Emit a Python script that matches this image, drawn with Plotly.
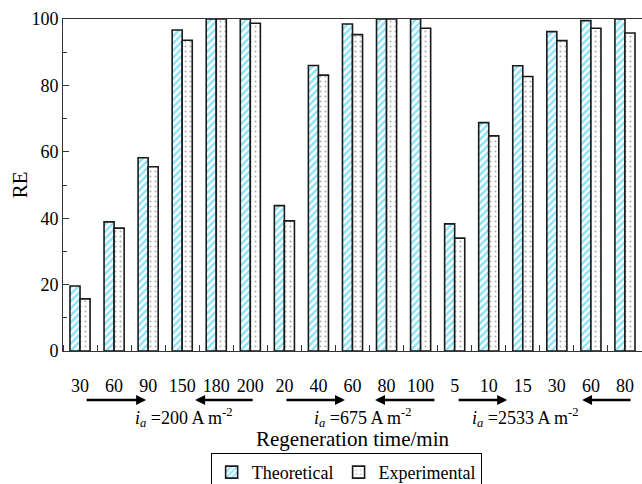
import plotly.graph_objects as go

categories = ["30", "60", "90", "150", "180", "200",
              "20", "40", "60", "80", "100",
              "5", "10", "15", "30", "60", "80"]
theoretical = [19.6, 38.9, 58.2, 96.7, 100, 100,
               43.8, 86.0, 98.5, 100, 100,
               38.3, 68.8, 85.9, 96.2, 99.5, 100]
experimental = [15.7, 37.0, 55.5, 93.6, 100, 98.7,
                39.2, 83.1, 95.3, 100, 97.2,
                34.0, 64.8, 82.7, 93.5, 97.2, 95.8]
xpos = list(range(len(categories)))

FONT = "Liberation Serif, Times New Roman, serif"

fig = go.Figure()
fig.add_trace(go.Bar(
    x=xpos, y=theoretical, name="Theoretical",
    marker=dict(color="white", line=dict(color="#1a1a1a", width=1.6),
                pattern=dict(shape="/", fgcolor="#1cc6f4", bgcolor="white",
                             size=5, solidity=0.5)),
))
fig.add_trace(go.Bar(
    x=xpos, y=experimental, name="Experimental",
    marker=dict(color="white", line=dict(color="#1a1a1a", width=1.6),
                pattern=dict(shape=".", fgcolor="#666", bgcolor="white",
                             size=5, solidity=0.15)),
))

# arrows (head x, tail offset px)
arrows = [(1.94, -61), (3.38, 59), (7.78, -60), (8.66, 61), (12.54, -50), (14.74, 50)]
annotations = []
for hx, off in arrows:
    annotations.append(dict(x=hx, y=-0.1476, xref="x", yref="paper",
                            ax=off, ay=0, axref="pixel", ayref="pixel",
                            showarrow=True, arrowhead=2, arrowsize=0.8,
                            arrowwidth=2.5, arrowcolor="black", text=""))

groups = [(3.05, "200"), (8.28, "675"), (13.06, "2533")]
for cx, val in groups:
    annotations.append(dict(x=cx, y=-0.199, xref="x", yref="paper",
                            showarrow=False, yanchor="middle",
                            text="<i>i</i><sub><i>a</i></sub> =" + val + " A m<sup>-2</sup>",
                            font=dict(family=FONT, size=18, color="black")))
annotations.append(dict(x=0.5, y=-0.266, xref="paper", yref="paper",
                        showarrow=False, yanchor="middle",
                        text="Regeneration time/min",
                        font=dict(family=FONT, size=21, color="black")))
annotations.append(dict(x=-0.074, y=0.5, xref="paper", yref="paper",
                        showarrow=False, xanchor="center", yanchor="middle",
                        textangle=-90, text="RE",
                        font=dict(family=FONT, size=21, color="black")))

fig.update_layout(
    width=642, height=484,
    margin=dict(l=63, r=0, t=19, b=133, autoexpand=False),
    paper_bgcolor="white", plot_bgcolor="white",
    barmode="group", bargap=0.41, bargroupgap=0,
    font=dict(family=FONT, size=18, color="black"),
    showlegend=True,
    legend=dict(orientation="h", x=0.255, y=-0.307, xanchor="left", yanchor="top",
                bordercolor="black", borderwidth=1, bgcolor="white",
                font=dict(family=FONT, size=18, color="black"),
                itemwidth=30, tracegroupgap=0),
    annotations=annotations,
)
fig.update_xaxes(
    range=[-0.5, len(categories) - 0.5], automargin=False,
    tickmode="array", tickvals=xpos, ticktext=categories,
    ticks="", ticklabelstandoff=18,
    showline=True, linecolor="#333", linewidth=1, mirror=True,
    showgrid=False, zeroline=False,
    minor=dict(ticks="inside", tick0=0.5, dtick=1, ticklen=6, tickcolor="#333", showgrid=False),
    tickfont=dict(family=FONT, size=18, color="black"),
)
fig.update_yaxes(
    range=[0, 100], dtick=20, ticks="inside", ticklen=6, tickcolor="#333",
    automargin=False,
    showline=True, linecolor="#333", linewidth=1, mirror=False,
    showgrid=False, zeroline=False,
    minor=dict(ticks="inside", dtick=10, ticklen=4, tickcolor="#333", showgrid=False),
    tickfont=dict(family=FONT, size=18, color="black"),
)

fig.write_html("out.html", config={"displayModeBar": False},
               post_script="document.body.style.margin='0';document.body.style.overflow='hidden';")
